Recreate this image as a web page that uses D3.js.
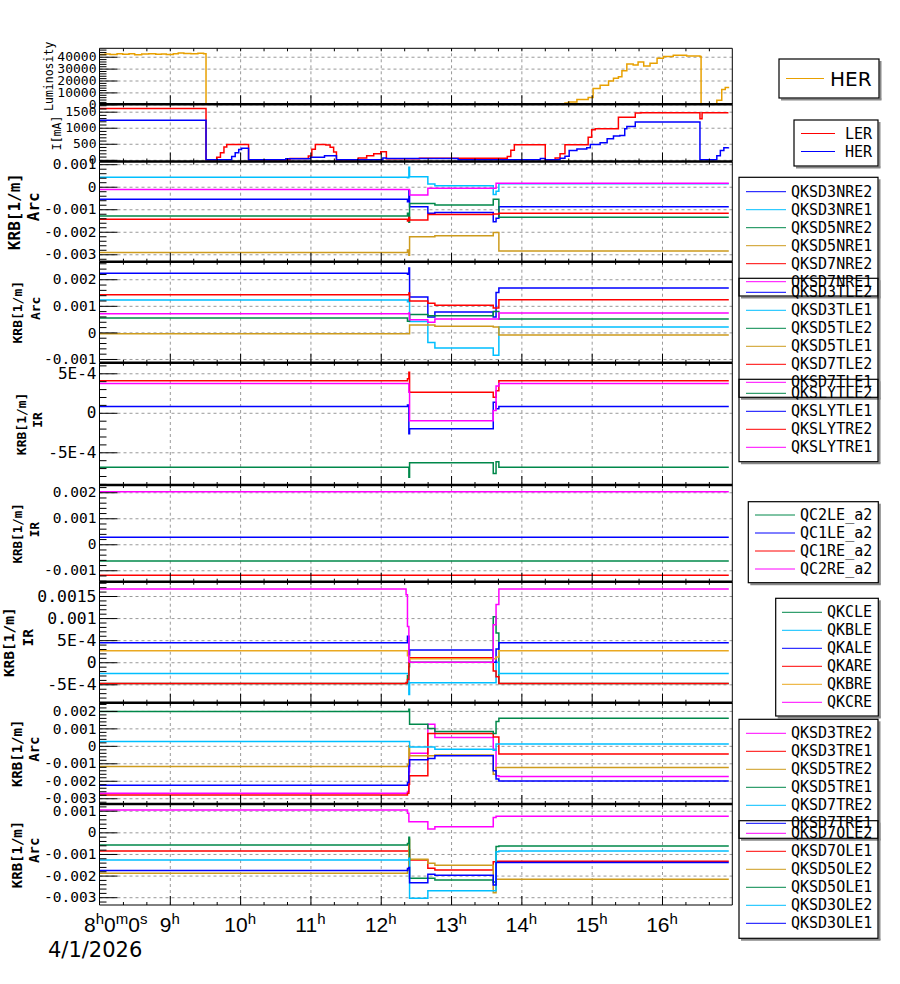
<!DOCTYPE html>
<meta charset="utf-8">
<script src="https://d3js.org/d3.v7.min.js"></script>
<style>
  body { margin: 0; background: #fff; }
  svg text { font-family: "DejaVu Sans Mono", monospace; fill: #000; }
</style>
<div id="chart"></div>
<script>

// ---------- data (time in hours of 4/1/2026) ----------

// luminosity (HER)
const lumTimes = [8.00, 8.08, 8.15, 8.25, 8.33, 8.42, 8.50, 8.60, 8.70, 8.80, 8.88, 8.95, 9.05, 9.12, 9.20, 9.30, 9.40, 9.48, 9.515,
  14.62, 14.67, 14.79, 14.95, 15.02, 15.12, 15.24, 15.31, 15.38, 15.43, 15.50, 15.59, 15.66, 15.74, 15.83, 15.93, 16.02, 16.16, 16.35, 16.54, 16.556,
  16.78, 16.85, 16.90, 16.945];
const lumHER = [41800, 42300, 41900, 42600, 42100, 42400, 41700, 42200, 42500, 42000, 42300, 41800, 42600, 43200, 42700, 42400, 42900, 42500, 0,
  1000, 2000, 4000, 5700, 13300, 16100, 19500, 21800, 23200, 28200, 33900, 33000, 35600, 32200, 34500, 38700, 40100, 41300, 40700, 40100, 0,
  3400, 12500, 14200, 14700];

// beam currents
const lerTimes = [8.00, 9.515, 9.667, 9.72, 9.77, 9.81, 10.12, 10.71, 10.97, 11.02, 11.07, 11.22, 11.28, 11.33, 11.37, 11.68, 11.80, 11.90, 12.00, 12.08,
  12.55, 13.80, 13.85, 13.90, 14.34, 14.48, 14.55, 14.62, 14.95, 15.00, 15.05, 15.38, 15.62, 15.70, 16.54, 16.57, 16.945];
const lerCurrent = [1600, 0, 80, 220, 400, 480, 0, 40, 120, 330, 480, 460, 390, 240, 0, 60, 130, 190, 250, 30,
  50, 100, 300, 470, 0, 60, 190, 470, 700, 940, 970, 1330, 1460, 1470, 1280, 1470, 1470];
const herTimes = [8.00, 9.515, 9.88, 9.93, 9.98, 10.02, 10.12, 10.65, 11.00, 11.20, 11.37, 12.03, 12.08, 13.10, 14.27, 14.34, 14.55, 14.62, 14.68, 14.79,
  14.93, 14.98, 15.12, 15.22, 15.31, 15.40, 15.47, 15.50, 15.62, 16.54, 16.78, 16.83, 16.88, 16.945];
const herCurrent = [1230, 0, 100, 220, 320, 360, 0, 30, 80, 130, 0, 60, 40, 0, 40, 0, 50, 110, 290, 340,
  375, 480, 530, 660, 740, 760, 970, 1040, 1175, 0, 130, 290, 375, 390];

// common step times of the skew quadrupole settings
const stepTimes = [8.00, 12.38, 12.40, 12.41, 12.67, 12.77, 13.60, 13.64, 13.68, 16.95];

// Arc NRE
const QKSD3NRE2 = [-0.00056, -0.00067, -0.00018, -0.00089, -0.00118, -0.00114, -0.00156, -0.0014, -0.00089, -0.00089];
const QKSD3NRE1 = [0.00042, 0.00040, 0.00086, 0.00044, 0.00012, 0.00004, -0.00034, -0.0002, 0.00013, 0.00013];
const QKSD5NRE2 = [-0.0013, -0.00118, -0.00158, -0.00074, -0.00074, -0.00081, -0.00056, -0.00056, -0.00136, -0.00136];
const QKSD5NRE1 = [-0.00292, -0.00281, -0.00304, -0.00222, -0.00222, -0.00218, -0.00203, -0.00203, -0.00286, -0.00286];
const QKSD7NRE2 = [-0.00145, -0.00152, -0.00137, -0.00148, -0.00123, -0.00123, -0.00121, -0.00121, -0.00118, -0.00118];
const QKSD7NRE1 = [-0.00012, -0.00012, -0.00012, -0.00037, -0.00007, -0.00007, -0.00007, 0.00015, 0.00015, 0.00015];

// Arc TLE
const QKSD3TLE2 = [0.00223, 0.00219, 0.00242, 0.00133, 0.00058, 0.00077, 0.00058, 0.0015, 0.00167, 0.00167];
const QKSD3TLE1 = [0.00122, 0.00115, 0.00126, 0.00041, -0.00038, -0.00059, -0.00086, -0.00086, 0.0002, 0.0002];
const QKSD5TLE2 = [0.00054, 0.00042, 0.00042, 0.00067, 0.00063, 0.00063, 0.00079, 0.00079, 0.0005, 0.0005];
const QKSD5TLE1 = [-0.00005, -0.00005, -0.00005, 0.00028, 0.00028, 0.00023, 0.0002, 0.0002, -0.0001, -0.0001];
const QKSD7TLE2 = [0.00142, 0.00142, 0.00148, 0.00118, 0.0011, 0.00102, 0.00092, 0.00092, 0.00123, 0.00123];
const QKSD7TLE1 = [0.0007, 0.0007, 0.00073, 0.00048, 0.00038, 0.0005, 0.0005, 0.0005, 0.00073, 0.00073];

// IR SLY
const QKSLYTLE2 = [-6.89e-4, -6.89e-4, -8.15e-4, -6.33e-4, -6.33e-4, -6.33e-4, -7.7e-4, -6.2e-4, -6.89e-4, -6.89e-4];
const QKSLYTLE1 = [0.8e-4, 1.0e-4, -2.66e-4, -2.03e-4, -2.03e-4, -2.03e-4, 1.34e-4, 0.5e-4, 0.8e-4, 0.8e-4];
const QKSLYTRE2 = [4.05e-4, 4.3e-4, 5.14e-4, 2.6e-4, 2.6e-4, 2.6e-4, 1.97e-4, 2.8e-4, 4.05e-4, 4.05e-4];
const QKSLYTRE1 = [3.71e-4, 3.71e-4, 2.6e-4, -1.0e-4, -1.0e-4, -1.0e-4, 0.3e-4, 3.4e-4, 3.71e-4, 3.71e-4];

// IR QC (constant)
const qcTimes = [8.00, 16.95];
const QC2LE_a2 = [-0.00064, -0.00064];
const QC1LE_a2 = [0.00027, 0.00027];
const QC1RE_a2 = [-0.00119, -0.00119];
const QC2RE_a2 = [0.00202, 0.00202];

// IR QK
const qkTimes = [8.00, 12.36, 12.38, 12.40, 12.41, 13.60, 13.64, 13.68, 16.95];
const QKCLE = [-4.82e-4, -4.82e-4, -3.0e-4, -1.0e-4, 0.0, 1.03e-3, 6.6e-4, -4.82e-4, -4.82e-4];
const QKBLE = [-2.56e-4, -2.56e-4, -2.56e-4, -7.3e-4, -4.66e-4, -4.66e-4, 0.0, -2.56e-4, -2.56e-4];
const QKALE = [4.39e-4, 4.39e-4, 5.9e-4, 1.5e-4, 2.8e-4, 0.0, 3.0e-4, 4.39e-4, 4.39e-4];
const QKARE = [-4.82e-4, -4.6e-4, -3.9e-4, 0.0, 1.0e-4, -2.0e-4, -3.3e-4, -4.82e-4, -4.82e-4];
const QKBRE = [2.58e-4, 2.58e-4, 1.5e-4, 0.5e-4, 0.77e-4, 0.77e-4, 1.2e-4, 2.58e-4, 2.58e-4];
const QKCRE = [1.66e-3, 1.53e-3, 8.1e-4, 0.2e-4, 0.0, 8.5e-4, 1.31e-3, 1.66e-3, 1.66e-3];

// Arc TRE
const QKSD3TRE2 = [-0.00272, -0.00262, -0.0015, -0.00042, 0.00124, 0.00048, -0.00019, -0.00171, -0.00175, -0.00175];
const QKSD3TRE1 = [-0.00282, -0.00272, -0.0022, -0.00171, 0.00071, 0.00071, 0.00051, 0.00051, -0.00047, -0.00047];
const QKSD5TRE2 = [-0.00118, -0.00105, 0.0, -0.00057, -0.00057, -0.00053, -0.00162, -0.00124, -0.00124, -0.00124];
const QKSD5TRE1 = [0.00197, 0.00197, 0.0021, 0.00124, 0.00099, 0.00082, 0.00071, 0.0014, 0.00158, 0.00158];
const QKSD7TRE2 = [0.00025, 0.00025, 0.00025, -0.00006, -0.00006, -0.00019, -0.00025, 0.0001, 0.0001, 0.0001];
const QKSD7TRE1 = [-0.00225, -0.0021, -0.00115, -0.0008, -0.00072, -0.00057, -0.00143, -0.0019, -0.00202, -0.00202];

// Arc OLE
const QKSD7OLE2 = [0.00103, 0.00088, 0.00049, 0.00049, 0.00015, 0.00026, 0.00069, 0.00074, 0.00074, 0.00074];
const QKSD7OLE1 = [-0.00086, -0.00086, -0.0008, -0.00128, -0.00166, -0.00174, -0.00136, -0.00134, -0.00134, -0.00134];
const QKSD5OLE2 = [-0.00189, -0.00175, -0.00032, -0.00125, -0.00143, -0.00152, -0.00279, -0.00217, -0.00217, -0.00217];
const QKSD5OLE1 = [-0.00059, -0.00052, -0.00023, -0.00212, -0.00212, -0.0022, -0.0023, -0.00066, -0.00063, -0.00063];
const QKSD3OLE2 = [-0.00128, -0.00128, -0.0012, -0.00305, -0.0027, -0.0027, -0.0027, -0.0009, -0.00086, -0.00086];
const QKSD3OLE1 = [-0.00177, -0.00167, -0.00163, -0.00233, -0.00194, -0.00199, -0.00243, -0.00139, -0.00139, -0.00139];

// axis tick labels
const hourTicks = [9, 10, 11, 12, 13, 14, 15, 16];
const lumTicks = [0, 10000, 20000, 30000, 40000];
const curTicks = [0, 500, 1000, 1500];
const milliTicks = [-0.003, -0.002, -0.001, 0, 0.001, 0.002];
const milliLabels = ["-0.003", "-0.002", "-0.001", "0", "0.001", "0.002"];
const halfTicks = [-5e-4, 0, 5e-4, 0.001, 0.0015];
const halfLabels = ["-5E-4", "0", "5E-4", "0.001", "0.0015"];

// ---------- layout ----------
const C = { orange: "#e8a000", red: "#ff0000", blue: "#0000ff", cyan: "#00bfff", green: "#00884a",
            gold: "#cd9b1d", magenta: "#ff00ff", amber: "#eaa820" };

const svg = d3.select("#chart").append("svg")
    .attr("width", 900).attr("height", 984);

const x0 = 99.5, x1 = 732.3;
const x = d3.scaleLinear().domain([8, 17]).range([x0, x1]);
const minorTimes = d3.range(1, 27).map(k => 8 + k / 3).filter(t => Math.abs(t - Math.round(t)) > 0.01);

function s(name, color, times, values) { return { name, color, times, values }; }

const panels = [
  { top: 48.3, bottom: 104.3, domain: [0, 47080], ticks: lumTicks, labels: lumTicks.map(String), minor: 2000, font: 13,
    title: ["Luminosity"], tsize: 11.5, tbold: false, tx: [49],
    series: [s("HER", C.orange, lumTimes, lumHER)],
    legend: { x: 779, y: 59, w: 100, h: 39, lx: [786, 824], tx: 830, y0: 78.5, font: 20, sans: true } },
  { top: 104.3, bottom: 161.5, domain: [-53, 1730], ticks: curTicks, labels: curTicks.map(String), minor: 100, font: 13,
    title: ["I[mA]"], tsize: 11.5, tbold: false, tx: [57],
    series: [s("LER", C.red, lerTimes, lerCurrent), s("HER", C.blue, herTimes, herCurrent)],
    legend: { x: 794, y: 120, w: 84, h: 46, lx: [801, 835], tx: 845, y0: 133.5 } },
  { top: 161.5, bottom: 261.7, domain: [-0.00333, 0.00112], ticks: milliTicks, labels: milliLabels, minor: 0.0002, font: 14.5,
    title: ["KRB[1/m]", "Arc"], tsize: 16, tbold: true, tx: [14.5, 33],
    series: [s("QKSD3NRE2", C.blue, stepTimes, QKSD3NRE2), s("QKSD3NRE1", C.cyan, stepTimes, QKSD3NRE1),
             s("QKSD5NRE2", C.green, stepTimes, QKSD5NRE2), s("QKSD5NRE1", C.gold, stepTimes, QKSD5NRE1),
             s("QKSD7NRE2", C.red, stepTimes, QKSD7NRE2), s("QKSD7NRE1", C.magenta, stepTimes, QKSD7NRE1)],
    legend: { x: 739, y: 177.3, w: 139, h: 118.7, lx: [746, 786], tx: 791, y0: 191.7 } },
  { top: 261.7, bottom: 362.7, domain: [-0.00114, 0.00266], ticks: milliTicks, labels: milliLabels, minor: 0.0002, font: 14.5,
    title: ["KRB[1/m]", "Arc"], tsize: 13, tbold: true, tx: [17.5, 35.5],
    series: [s("QKSD3TLE2", C.blue, stepTimes, QKSD3TLE2), s("QKSD3TLE1", C.cyan, stepTimes, QKSD3TLE1),
             s("QKSD5TLE2", C.green, stepTimes, QKSD5TLE2), s("QKSD5TLE1", C.gold, stepTimes, QKSD5TLE1),
             s("QKSD7TLE2", C.red, stepTimes, QKSD7TLE2), s("QKSD7TLE1", C.magenta, stepTimes, QKSD7TLE1)],
    legend: { x: 739, y: 278.3, w: 139, h: 119, lx: [746, 786], tx: 791, y0: 292.3 } },
  { top: 362.7, bottom: 485, domain: [-9.14e-4, 6.34e-4], ticks: halfTicks, labels: halfLabels, minor: 1e-4, font: 16,
    title: ["KRB[1/m]", "IR"], tsize: 13, tbold: true, tx: [21, 37.5],
    series: [s("QKSLYTLE2", C.green, stepTimes, QKSLYTLE2), s("QKSLYTLE1", C.blue, stepTimes, QKSLYTLE1),
             s("QKSLYTRE2", C.red, stepTimes, QKSLYTRE2), s("QKSLYTRE1", C.magenta, stepTimes, QKSLYTRE1)],
    legend: { x: 739, y: 379.3, w: 139, h: 82.4, lx: [746, 786], tx: 791, y0: 393.3 } },
  { top: 485, bottom: 581.7, domain: [-0.00144, 0.00228], ticks: milliTicks, labels: milliLabels, minor: 0.0002, font: 14.5,
    title: ["KRB[1/m]", "IR"], tsize: 12.5, tbold: true, tx: [17.5, 34],
    series: [s("QC2LE_a2", C.green, qcTimes, QC2LE_a2), s("QC1LE_a2", C.blue, qcTimes, QC1LE_a2),
             s("QC1RE_a2", C.red, qcTimes, QC1RE_a2), s("QC2RE_a2", C.magenta, qcTimes, QC2RE_a2)],
    legend: { x: 748.3, y: 501.7, w: 130, h: 81, lx: [755, 795], tx: 800, y0: 515 } },
  { top: 581.7, bottom: 702.7, domain: [-9.16e-4, 0.001824], ticks: halfTicks, labels: halfLabels, minor: 1e-4, font: 16.4,
    title: ["KRB[1/m]", "IR"], tsize: 14.5, tbold: true, tx: [9, 28],
    series: [s("QKCLE", C.green, qkTimes, QKCLE), s("QKBLE", C.cyan, qkTimes, QKBLE), s("QKALE", C.blue, qkTimes, QKALE),
             s("QKARE", C.red, qkTimes, QKARE), s("QKBRE", C.amber, qkTimes, QKBRE), s("QKCRE", C.magenta, qkTimes, QKCRE)],
    legend: { x: 775.7, y: 598.3, w: 102.6, h: 117.7, lx: [782, 822], tx: 827, y0: 612.3 } },
  { top: 702.7, bottom: 804, domain: [-0.00333, 0.00247], ticks: milliTicks, labels: milliLabels, minor: 0.0002, font: 14.5,
    title: ["KRB[1/m]", "Arc"], tsize: 14, tbold: true, tx: [17, 34],
    series: [s("QKSD3TRE2", C.magenta, stepTimes, QKSD3TRE2), s("QKSD3TRE1", C.red, stepTimes, QKSD3TRE1),
             s("QKSD5TRE2", C.gold, stepTimes, QKSD5TRE2), s("QKSD5TRE1", C.green, stepTimes, QKSD5TRE1),
             s("QKSD7TRE2", C.cyan, stepTimes, QKSD7TRE2), s("QKSD7TRE1", C.blue, stepTimes, QKSD7TRE1)],
    legend: { x: 739, y: 719.3, w: 139, h: 119, lx: [746, 786], tx: 791, y0: 733.3 } },
  { top: 804, bottom: 905, domain: [-0.00336, 0.00131], ticks: milliTicks, labels: milliLabels, minor: 0.0002, font: 14.5,
    title: ["KRB[1/m]", "Arc"], tsize: 14, tbold: true, tx: [17, 34],
    series: [s("QKSD7OLE2", C.magenta, stepTimes, QKSD7OLE2), s("QKSD7OLE1", C.red, stepTimes, QKSD7OLE1),
             s("QKSD5OLE2", C.gold, stepTimes, QKSD5OLE2), s("QKSD5OLE1", C.green, stepTimes, QKSD5OLE1),
             s("QKSD3OLE2", C.cyan, stepTimes, QKSD3OLE2), s("QKSD3OLE1", C.blue, stepTimes, QKSD3OLE1)],
    legend: { x: 739, y: 820.7, w: 139, h: 117.6, lx: [746, 786], tx: 791, y0: 833.3 } }
];

const gridLayer = svg.append("g");
const dataLayer = svg.append("g");
const axisLayer = svg.append("g");

function styleAxis(sel) {
  sel.select(".domain").remove();
  sel.selectAll(".tick line").attr("stroke", "#000");
}

panels.forEach((p, i) => {
  const y = d3.scaleLinear().domain(p.domain).range([p.bottom, p.top]);
  const inRange = v => v >= p.domain[0] && v <= p.domain[1];
  const majors = p.ticks.filter(inRange);
  const labels = p.labels.filter((l, k) => inRange(p.ticks[k]));
  const minors = d3.range(Math.ceil(p.domain[0] / p.minor - 1e-9), Math.floor(p.domain[1] / p.minor + 1e-9) + 1)
      .map(k => k * p.minor)
      .filter(v => !majors.some(m => Math.abs(m - v) < p.minor * 0.01));

  // grid
  gridLayer.append("g")
      .attr("transform", `translate(${x0},0)`)
      .call(d3.axisLeft(y).tickValues(majors).tickSize(-(x1 - x0)).tickFormat(""))
      .call(styleAxis)
      .selectAll(".tick line").attr("stroke", "#999").attr("stroke-dasharray", "3,3");
  gridLayer.append("g")
      .attr("transform", `translate(0,${p.bottom})`)
      .call(d3.axisBottom(x).tickValues(hourTicks).tickSize(-(p.bottom - p.top)).tickFormat(""))
      .call(styleAxis)
      .selectAll(".tick line").attr("stroke", "#999").attr("stroke-dasharray", "3,3");

  // data
  svg.append("clipPath").attr("id", "clip" + i)
    .append("rect").attr("x", x0).attr("y", p.top).attr("width", x1 - x0).attr("height", p.bottom - p.top);
  const line = d3.line().curve(d3.curveStepAfter).x(d => x(d[0])).y(d => y(d[1]));
  const g = dataLayer.append("g").attr("clip-path", `url(#clip${i})`);
  p.series.forEach(sr => {
    g.append("path")
      .datum(d3.zip(sr.times, sr.values))
      .attr("fill", "none")
      .attr("stroke", sr.color)
      .attr("stroke-width", 1.5)
      .attr("d", line);
  });

  // y axis: major ticks with labels, minor ticks
  const ya = axisLayer.append("g")
      .attr("transform", `translate(${x0},0)`)
      .call(d3.axisLeft(y).tickValues(majors).tickSize(-18).tickPadding(3).tickFormat((d, k) => labels[k]))
      .call(styleAxis);
  ya.attr("font-family", null).attr("font-size", null);
  ya.selectAll(".tick text").attr("font-size", p.font).attr("fill", "#000");
  axisLayer.append("g")
      .attr("transform", `translate(${x0},0)`)
      .call(d3.axisLeft(y).tickValues(minors).tickSize(-7).tickFormat(""))
      .call(styleAxis);

  // x ticks (bottom inside, top inside)
  axisLayer.append("g").attr("transform", `translate(0,${p.bottom})`)
      .call(d3.axisBottom(x).tickValues(hourTicks).tickSize(-9).tickFormat("")).call(styleAxis);
  axisLayer.append("g").attr("transform", `translate(0,${p.bottom})`)
      .call(d3.axisBottom(x).tickValues(minorTimes).tickSize(-3).tickFormat("")).call(styleAxis);
  axisLayer.append("g").attr("transform", `translate(0,${p.top})`)
      .call(d3.axisTop(x).tickValues(hourTicks.concat(minorTimes)).tickSize(-3).tickFormat("")).call(styleAxis);

  // frame
  axisLayer.append("line").attr("x1", x0).attr("x2", x0).attr("y1", p.top).attr("y2", p.bottom).attr("stroke", "#000");
  axisLayer.append("line").attr("x1", x1).attr("x2", x1).attr("y1", p.top).attr("y2", p.bottom).attr("stroke", "#000");
  axisLayer.append("line").attr("x1", x0).attr("x2", x1).attr("y1", p.top).attr("y2", p.top)
      .attr("stroke", "#000").attr("stroke-width", i === 0 ? 1 : 2.5);

  // axis title
  const yc = (p.top + p.bottom) / 2;
  p.title.forEach((t, k) => {
    const yy = k === 0 ? yc : yc - 0.3 * p.tsize;
    axisLayer.append("text")
      .attr("transform", `translate(${p.tx[k]},${yy}) rotate(-90)`)
      .attr("text-anchor", "middle")
      .attr("dominant-baseline", "central")
      .attr("font-size", p.tsize)
      .attr("font-weight", p.tbold ? "bold" : "normal")
      .attr("fill", p.tbold ? "#000" : "#333")
      .text(t);
  });

  // legend
  const L = p.legend;
  const lg = svg.append("g");
  lg.append("line").attr("x1", L.x + L.w + 1.5).attr("x2", L.x + L.w + 1.5).attr("y1", L.y + 2).attr("y2", L.y + L.h + 1.5)
    .attr("stroke", "#888").attr("stroke-width", 2);
  lg.append("line").attr("x1", L.x + 2).attr("x2", L.x + L.w + 2.5).attr("y1", L.y + L.h + 1.5).attr("y2", L.y + L.h + 1.5)
    .attr("stroke", "#888").attr("stroke-width", 2);
  lg.append("rect").attr("x", L.x).attr("y", L.y).attr("width", L.w).attr("height", L.h)
    .attr("fill", "none").attr("stroke", "#000").attr("stroke-width", 1.2);
  p.series.forEach((sr, k) => {
    const yy = L.y0 + k * 18;
    lg.append("line").attr("x1", L.lx[0]).attr("x2", L.lx[1]).attr("y1", yy).attr("y2", yy)
      .attr("stroke", sr.color).attr("stroke-width", 1);
    lg.append("text").attr("x", L.tx).attr("y", yy).attr("dominant-baseline", "central")
      .attr("font-size", L.font || 15)
      .style("font-family", L.sans ? "'DejaVu Sans', sans-serif" : null)
      .text(sr.name);
  });
});

// bottom frame
const last = panels[panels.length - 1];
axisLayer.append("line").attr("x1", x0).attr("x2", x1).attr("y1", last.bottom).attr("y2", last.bottom).attr("stroke", "#000");

// time labels
const tl = svg.append("g");
hourTicks.forEach(h => {
  const t = tl.append("text").attr("x", x(h)).attr("y", 932).attr("text-anchor", "middle")
    .style("font-family", "'Liberation Sans', Arial, sans-serif");
  t.append("tspan").attr("font-size", 21).text(h);
  t.append("tspan").attr("font-size", 15).attr("dy", -8).text("h");
});
const t0 = tl.append("text").attr("x", 84).attr("y", 932).style("font-family", "'Liberation Sans', Arial, sans-serif");
[["8", "h"], ["0", "m"], ["0", "s"]].forEach(([n, u], k) => {
  t0.append("tspan").attr("font-size", 21).attr("dy", k === 0 ? 0 : 8).text(n);
  t0.append("tspan").attr("font-size", 15).attr("dy", -8).text(u);
});
tl.append("text").attr("x", 48).attr("y", 957).attr("font-size", 21)
  .style("font-family", "'DejaVu Sans', sans-serif").text("4/1/2026");

</script>
